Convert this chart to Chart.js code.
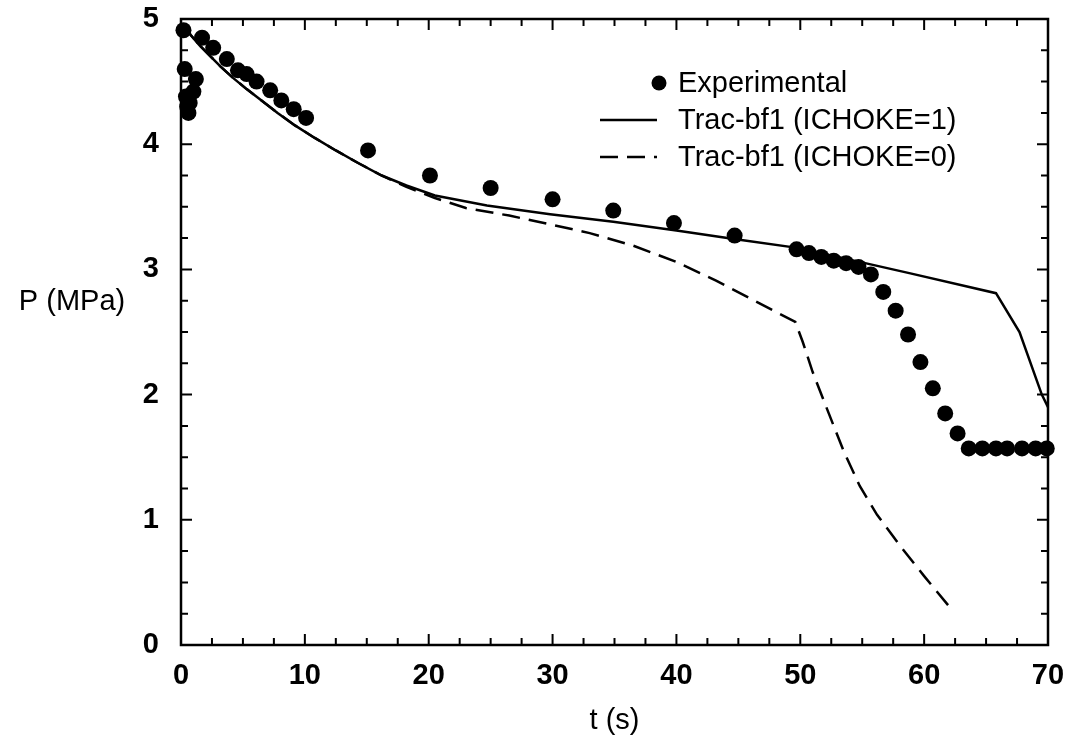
<!DOCTYPE html>
<html>
<head>
<meta charset="utf-8">
<script src="https://cdn.jsdelivr.net/npm/chart.js@4/dist/chart.umd.min.js"></script>
<style>
  html, body { margin: 0; padding: 0; background: #fff; }
  canvas { display: block; }
</style>
</head>
<body>
<canvas id="chart" width="1066" height="740"></canvas>
<script>
// experimental points
const expT = [0.2, 0.3, 0.4, 0.5, 0.6, 0.7, 1.0, 1.2, 1.7, 2.6, 3.7, 4.6, 5.3, 6.1, 7.2, 8.1, 9.1, 10.1,
  15.1, 20.1, 25, 30, 34.9, 39.8, 44.7, 49.7, 50.7, 51.7, 52.7, 53.7, 54.7, 55.7, 56.7, 57.7, 58.7,
  59.7, 60.7, 61.7, 62.7, 63.6, 64.7, 65.8, 66.7, 67.9, 69.0, 69.9];
const expP = [4.91, 4.60, 4.38, 4.30, 4.25, 4.33, 4.42, 4.52, 4.85, 4.77, 4.68, 4.59, 4.56, 4.50, 4.43, 4.35, 4.28, 4.21,
  3.95, 3.75, 3.65, 3.56, 3.47, 3.37, 3.27, 3.16, 3.13, 3.10, 3.07, 3.05, 3.02, 2.96, 2.82, 2.67, 2.48,
  2.26, 2.05, 1.85, 1.69, 1.57, 1.57, 1.57, 1.57, 1.57, 1.57, 1.57];

// Trac-bf1, ICHOKE=1
const choke1T = [0.2, 0.8, 1.5, 2.3, 3.2, 4.2, 5.3, 6.5, 7.8, 9.2, 10.8, 12.5, 14.3, 16.2, 18.2, 20.5, 24.7, 29.8, 34.9, 40, 44.8, 49.9, 58.8, 65.8, 67.7, 69.5, 70];
const choke1P = [4.95, 4.87, 4.79, 4.71, 4.62, 4.53, 4.44, 4.35, 4.25, 4.15, 4.05, 3.95, 3.85, 3.75, 3.67, 3.59, 3.51, 3.44, 3.38, 3.31, 3.24, 3.17, 2.97, 2.81, 2.50, 2.00, 1.90];

// Trac-bf1, ICHOKE=0
const choke0T = [0.2, 0.8, 1.5, 2.3, 3.2, 4.2, 5.3, 6.5, 7.8, 9.2, 10.8, 12.5, 14.3, 16.2, 18.2, 20.5, 23, 26.5, 29.8, 33, 36.5, 40, 43.2, 46.3, 49.6, 50.2, 51, 52.3, 53.5, 54.8, 56.2, 58, 60, 62];
const choke0P = [4.95, 4.87, 4.79, 4.71, 4.62, 4.53, 4.44, 4.35, 4.25, 4.15, 4.05, 3.95, 3.85, 3.75, 3.66, 3.57, 3.49, 3.43, 3.36, 3.29, 3.19, 3.06, 2.91, 2.75, 2.58, 2.42, 2.18, 1.85, 1.55, 1.27, 1.04, 0.80, 0.55, 0.31];

const xTicks = [0, 10, 20, 30, 40, 50, 60, 70];
const yTicks = [0, 1, 2, 3, 4, 5];

const FONT = '"Liberation Sans", Arial, Helvetica, sans-serif';
const toXY = (xs, ys) => xs.map((x, i) => ({ x: x, y: ys[i] }));

// box + inward ticks on all four sides
const frame = {
  id: 'frame',
  afterDatasetsDraw(chart) {
    const { ctx, chartArea: a, scales: { x, y } } = chart;
    ctx.save();
    ctx.strokeStyle = '#000';
    ctx.lineWidth = 2.5;
    ctx.strokeRect(a.left, a.top, a.right - a.left, a.bottom - a.top);
    ctx.lineWidth = 2;
    ctx.beginPath();
    for (let v = 0; v <= 70; v += 2.5) {
      const px = x.getPixelForValue(v);
      const len = v % 10 === 0 ? 11 : 7;
      ctx.moveTo(px, a.bottom); ctx.lineTo(px, a.bottom - len);
      ctx.moveTo(px, a.top); ctx.lineTo(px, a.top + len);
    }
    for (let v = 0; v <= 5; v += 0.25) {
      const py = y.getPixelForValue(v);
      const len = v % 1 === 0 ? 11 : 7;
      ctx.moveTo(a.left, py); ctx.lineTo(a.left + len, py);
      ctx.moveTo(a.right, py); ctx.lineTo(a.right - len, py);
    }
    ctx.stroke();

    // horizontal y title
    ctx.fillStyle = '#000';
    ctx.font = '29px ' + FONT;
    ctx.textAlign = 'center';
    ctx.textBaseline = 'middle';
    ctx.fillText('P (MPa)', 72, 302);
    ctx.restore();
  }
};

// legend in the upper right of the plot
const legendBox = {
  id: 'legendBox',
  afterDraw(chart) {
    const { ctx } = chart;
    const ds = chart.data.datasets;
    const textX = 678;
    const rows = [83, 120, 157];
    ctx.save();
    ctx.font = '29px ' + FONT;
    ctx.fillStyle = '#000';
    ctx.textAlign = 'left';
    ctx.textBaseline = 'middle';
    ds.forEach((d, i) => {
      const yy = rows[i];
      if (d.showLine === false) {
        ctx.beginPath();
        ctx.arc(659, yy, 7.5, 0, Math.PI * 2);
        ctx.fill();
      } else {
        ctx.strokeStyle = '#000';
        ctx.lineWidth = 2.5;
        ctx.setLineDash(d.borderDash || []);
        ctx.beginPath();
        ctx.moveTo(600, yy);
        ctx.lineTo(657, yy);
        ctx.stroke();
        ctx.setLineDash([]);
      }
      ctx.fillText(d.label, textX, yy + 1);
    });
    ctx.restore();
  }
};

new Chart(document.getElementById('chart'), {
  type: 'scatter',
  data: {
    datasets: [
      {
        label: 'Experimental',
        data: toXY(expT, expP),
        showLine: false,
        pointRadius: 8,
        pointBackgroundColor: '#000',
        pointBorderColor: '#000',
        pointBorderWidth: 0,
        clip: false
      },
      {
        label: 'Trac-bf1 (ICHOKE=1)',
        data: toXY(choke1T, choke1P),
        showLine: true,
        borderColor: '#000',
        borderWidth: 2.5,
        pointRadius: 0,
        tension: 0,
        clip: false
      },
      {
        label: 'Trac-bf1 (ICHOKE=0)',
        data: toXY(choke0T, choke0P),
        showLine: true,
        borderColor: '#000',
        borderWidth: 2.5,
        borderDash: [18, 9],
        pointRadius: 0,
        tension: 0
      }
    ]
  },
  options: {
    responsive: false,
    animation: false,
    layout: { padding: 0 },
    plugins: { legend: { display: false }, tooltip: { enabled: false } },
    scales: {
      x: {
        type: 'linear',
        min: 0,
        max: 70,
        afterBuildTicks: s => { s.ticks = xTicks.map(v => ({ value: v })); },
        ticks: { color: '#000', font: { family: FONT, size: 29, weight: 'bold' }, padding: 14, maxRotation: 0 },
        grid: { display: false, drawTicks: false },
        border: { display: false },
        title: { display: true, text: 't (s)', color: '#000', font: { family: FONT, size: 29 }, padding: { top: 0, bottom: 2 } },
        afterFit: s => { s.height = 95; s.paddingLeft = 0; s.paddingRight = 18; }
      },
      y: {
        min: 0,
        max: 5,
        afterBuildTicks: s => { s.ticks = yTicks.map(v => ({ value: v })); },
        ticks: { color: '#000', font: { family: FONT, size: 29, weight: 'bold' }, padding: 22 },
        grid: { display: false, drawTicks: false },
        border: { display: false },
        afterFit: s => { s.width = 181; s.paddingTop = 19; s.paddingBottom = 0; }
      }
    }
  },
  plugins: [frame, legendBox]
});
</script>
</body>
</html>
